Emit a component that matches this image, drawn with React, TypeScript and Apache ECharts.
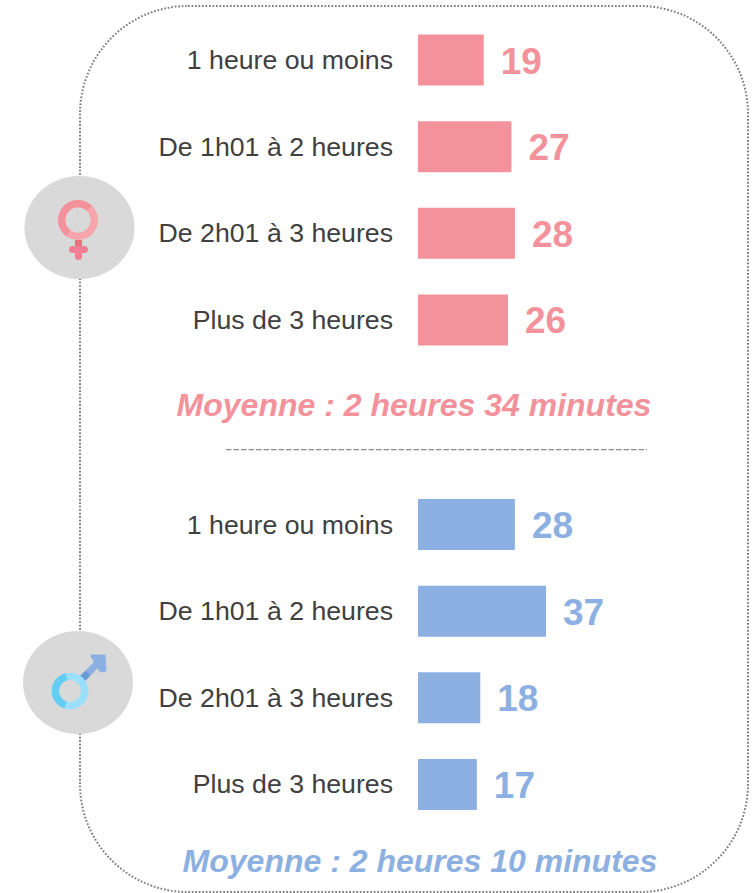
import React, { useEffect, useRef } from "react";
import * as echarts from "echarts";

const categories = ["1 heure ou moins", "De 1h01 à 2 heures", "De 2h01 à 3 heures", "Plus de 3 heures"];
const femaleValues = [19, 27, 28, 26];
const maleValues = [28, 37, 18, 17];
const femaleMean = "Moyenne : 2 heures 34 minutes";
const maleMean = "Moyenne : 2 heures 10 minutes";
const PINK = "#f4929c";
const BLUE = "#8db0e2";
const FONT = '"Liberation Sans", Arial, sans-serif';

const makeGrid = (top: number) => ({ left: 418, top, width: 300, height: 346.4 });
const makeX = (i: number) => ({ type: "value", gridIndex: i, min: 0, max: 86.7, show: false });
const makeY = (i: number) => ({
  type: "category", gridIndex: i, inverse: true, data: categories,
  axisLine: { show: false }, axisTick: { show: false },
  axisLabel: { margin: 25, fontSize: 26.7, color: "#404040", fontFamily: FONT },
});
const makeSeries = (i: number, data: number[], color: string) => ({
  type: "bar", xAxisIndex: i, yAxisIndex: i, data, barWidth: 51,
  itemStyle: { color },
  label: { show: true, position: "right", distance: 17, offset: [0, 1], fontSize: 37, fontWeight: "bold", color, fontFamily: FONT },
});

export default function App() {
  const ref = useRef<HTMLDivElement>(null);
  useEffect(() => {
    document.body.style.margin = "0";
    const chart = echarts.init(ref.current!, undefined, { renderer: "svg" });
    chart.setOption({
      animation: false,
      grid: [makeGrid(16.8), makeGrid(481.3)],
      xAxis: [makeX(0), makeX(1)],
      yAxis: [makeY(0), makeY(1)],
      series: [makeSeries(0, femaleValues, PINK), makeSeries(1, maleValues, BLUE)],
      graphic: [
        { type: "rect", shape: { x: 80, y: 6, width: 668, height: 886, r: 108 }, style: { fill: "none", stroke: "#7f7f7f", lineWidth: 2, lineDash: [1.7, 1.8] } },
        { type: "line", shape: { x1: 226, y1: 449.7, x2: 647, y2: 449.7 }, style: { stroke: "#8c8c8c", lineWidth: 1.2, lineDash: [5.5, 2] } },
        { type: "text", x: 414, y: 405, style: { text: femaleMean, fill: PINK, font: `italic bold 32px ${FONT}`, align: "center", verticalAlign: "middle" } },
        { type: "text", x: 420, y: 861, style: { text: maleMean, fill: BLUE, font: `italic bold 32px ${FONT}`, align: "center", verticalAlign: "middle" } },
        // female badge
        { type: "ellipse", shape: { cx: 79.5, cy: 227.5, rx: 55, ry: 51.5 }, style: { fill: "#d9d9d9" } },
        { type: "ring", shape: { cx: 78, cy: 220, r: 20, r0: 12.7 }, style: { fill: "#f8a5ad" } },
        { type: "sector", shape: { cx: 78, cy: 220, r: 20, r0: 12.7, startAngle: Math.PI * 0.7, endAngle: Math.PI * 1.75 }, style: { fill: PINK } },
        { type: "rect", shape: { x: 75, y: 240, width: 7, height: 8 }, style: { fill: "#ee6f80" } },
        { type: "rect", shape: { x: 69, y: 246, width: 19, height: 7, r: 3.5 }, style: { fill: "#f27f94" } },
        { type: "rect", shape: { x: 75, y: 246, width: 7, height: 14, r: 3.5 }, style: { fill: "#f27f94" } },
        // male badge
        { type: "ellipse", shape: { cx: 78, cy: 682.5, rx: 55, ry: 51.5 }, style: { fill: "#d9d9d9" } },
        { type: "line", shape: { x1: 84, y1: 677, x2: 98, y2: 663 }, style: { stroke: BLUE, lineWidth: 7 } },
        { type: "line", shape: { x1: 82, y1: 679, x2: 88, y2: 673 }, style: { stroke: "#6a9bd8", lineWidth: 7 } },
        { type: "polygon", shape: { points: [[92, 656], [104, 656], [105, 670], [101, 671]] }, style: { fill: BLUE, stroke: BLUE, lineWidth: 3, lineJoin: "round" } },
        { type: "ring", shape: { cx: 70, cy: 691, r: 18.3, r0: 11 }, style: { fill: "#9adffb" } },
        { type: "sector", shape: { cx: 70, cy: 691, r: 18.3, r0: 11, startAngle: Math.PI * 0.6, endAngle: Math.PI * 1.42 }, style: { fill: "#63cdf6" } },
      ],
    });
    return () => chart.dispose();
  }, []);
  return <div ref={ref} style={{ width: 756, height: 893 }} />;
}
